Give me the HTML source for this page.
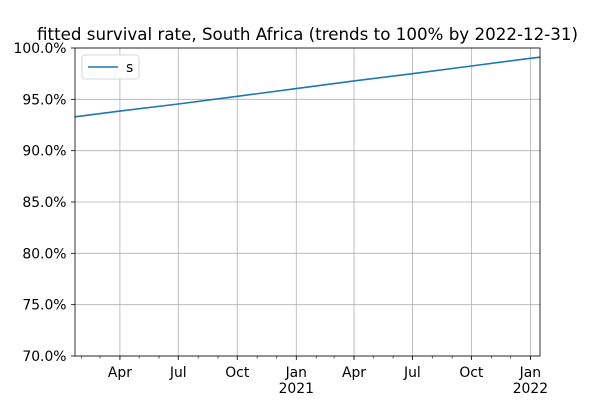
<!DOCTYPE html>
<html><head><meta charset="utf-8"><style>
body{margin:0;background:#fff;}
svg text{font-family:"DejaVu Sans","Liberation Sans",sans-serif;}
</style></head><body>
<svg id="chart" width="600" height="400" xmlns="http://www.w3.org/2000/svg">
<rect width="600" height="400" fill="#fff"/>
<text x="307.5" y="40" font-size="16.7" text-anchor="middle" fill="#000">fitted survival rate, South Africa (trends to 100% by 2022-12-31)</text>
<g id="grid"></g>
<g id="axes"></g>
<path id="line" fill="none" stroke="#1f77b4" stroke-width="1.6"/>
<rect x="75" y="48" width="465" height="308" fill="none" stroke="#000" stroke-width="0.8"/>
<g>
<rect x="82" y="55" width="57" height="24" rx="3" fill="#fff" stroke="#ccc" stroke-width="0.8"/>
<line x1="88" y1="67" x2="118" y2="67" stroke="#1f77b4" stroke-width="1.6"/>
<text x="126" y="72" font-size="13.9">s</text>
</g>
</svg>
<script>
const dates=["2020-01-22","2020-04-01","2020-07-01","2020-10-01","2021-01-01","2021-04-01","2021-07-01","2021-10-01","2022-01-01","2022-01-16"];
const values=[93.3,93.85,94.55,95.3,96.05,96.8,97.5,98.25,99.0,99.1];
const yTicks=[70,75,80,85,90,95,100];
const xMajor=[["2020-04-01","Apr",""],["2020-07-01","Jul",""],["2020-10-01","Oct",""],["2021-01-01","Jan","2021"],["2021-04-01","Apr",""],["2021-07-01","Jul",""],["2021-10-01","Oct",""],["2022-01-01","Jan","2022"]];
const NS="http://www.w3.org/2000/svg";
const t0=Date.parse("2020-01-22"),t1=Date.parse("2022-01-16");
function xs(d){return 75+(Date.parse(d)-t0)/(t1-t0)*465;}
function ys(v){return 356-(v-70)/30*308;}
function mk(tag,attrs,parent){const e=document.createElementNS(NS,tag);for(const k in attrs)e.setAttribute(k,attrs[k]);parent.appendChild(e);return e;}
const grid=document.getElementById('grid'),axes=document.getElementById('axes');
yTicks.forEach(v=>{const y=ys(v);
const g=mk('line',{x1:75,x2:540,y1:y,y2:y,stroke:'#b0b0b0','stroke-width':0.8},grid);


mk('line',{x1:71,x2:75,y1:y,y2:y,stroke:'#000','stroke-width':0.8},axes);
const t=mk('text',{x:66.5,y:y+5,'font-size':13.9,'text-anchor':'end'},axes);t.textContent=v.toFixed(1)+'%';


});
for(let y=2020;y<=2022;y++)for(let m=0;m<12;m++){const d=new Date(Date.UTC(y,m,1));const tt=d.getTime();if(tt<t0||tt>t1)continue;
const x=75+(tt-t0)/(t1-t0)*465;mk('line',{x1:x,x2:x,y1:356,y2:358.5,stroke:'#000','stroke-width':0.6},axes);}
xMajor.forEach(([d,l1,l2])=>{const x=xs(d);
const g=mk('line',{x1:x,x2:x,y1:48,y2:356,stroke:'#b0b0b0','stroke-width':0.8},grid);


mk('line',{x1:x,x2:x,y1:356,y2:360,stroke:'#000','stroke-width':0.8},axes);
const t=mk('text',{x:x,y:377,'font-size':13.9,'text-anchor':'middle'},axes);t.textContent=l1;


if(l2){const t2=mk('text',{x:x,y:393,'font-size':13.9,'text-anchor':'middle'},axes);t2.textContent=l2;

}
});
document.getElementById('line').setAttribute('d',dates.map((d,i)=>(i?'L':'M')+xs(d).toFixed(1)+','+ys(values[i]).toFixed(1)).join(''));
</script>
</body></html>
